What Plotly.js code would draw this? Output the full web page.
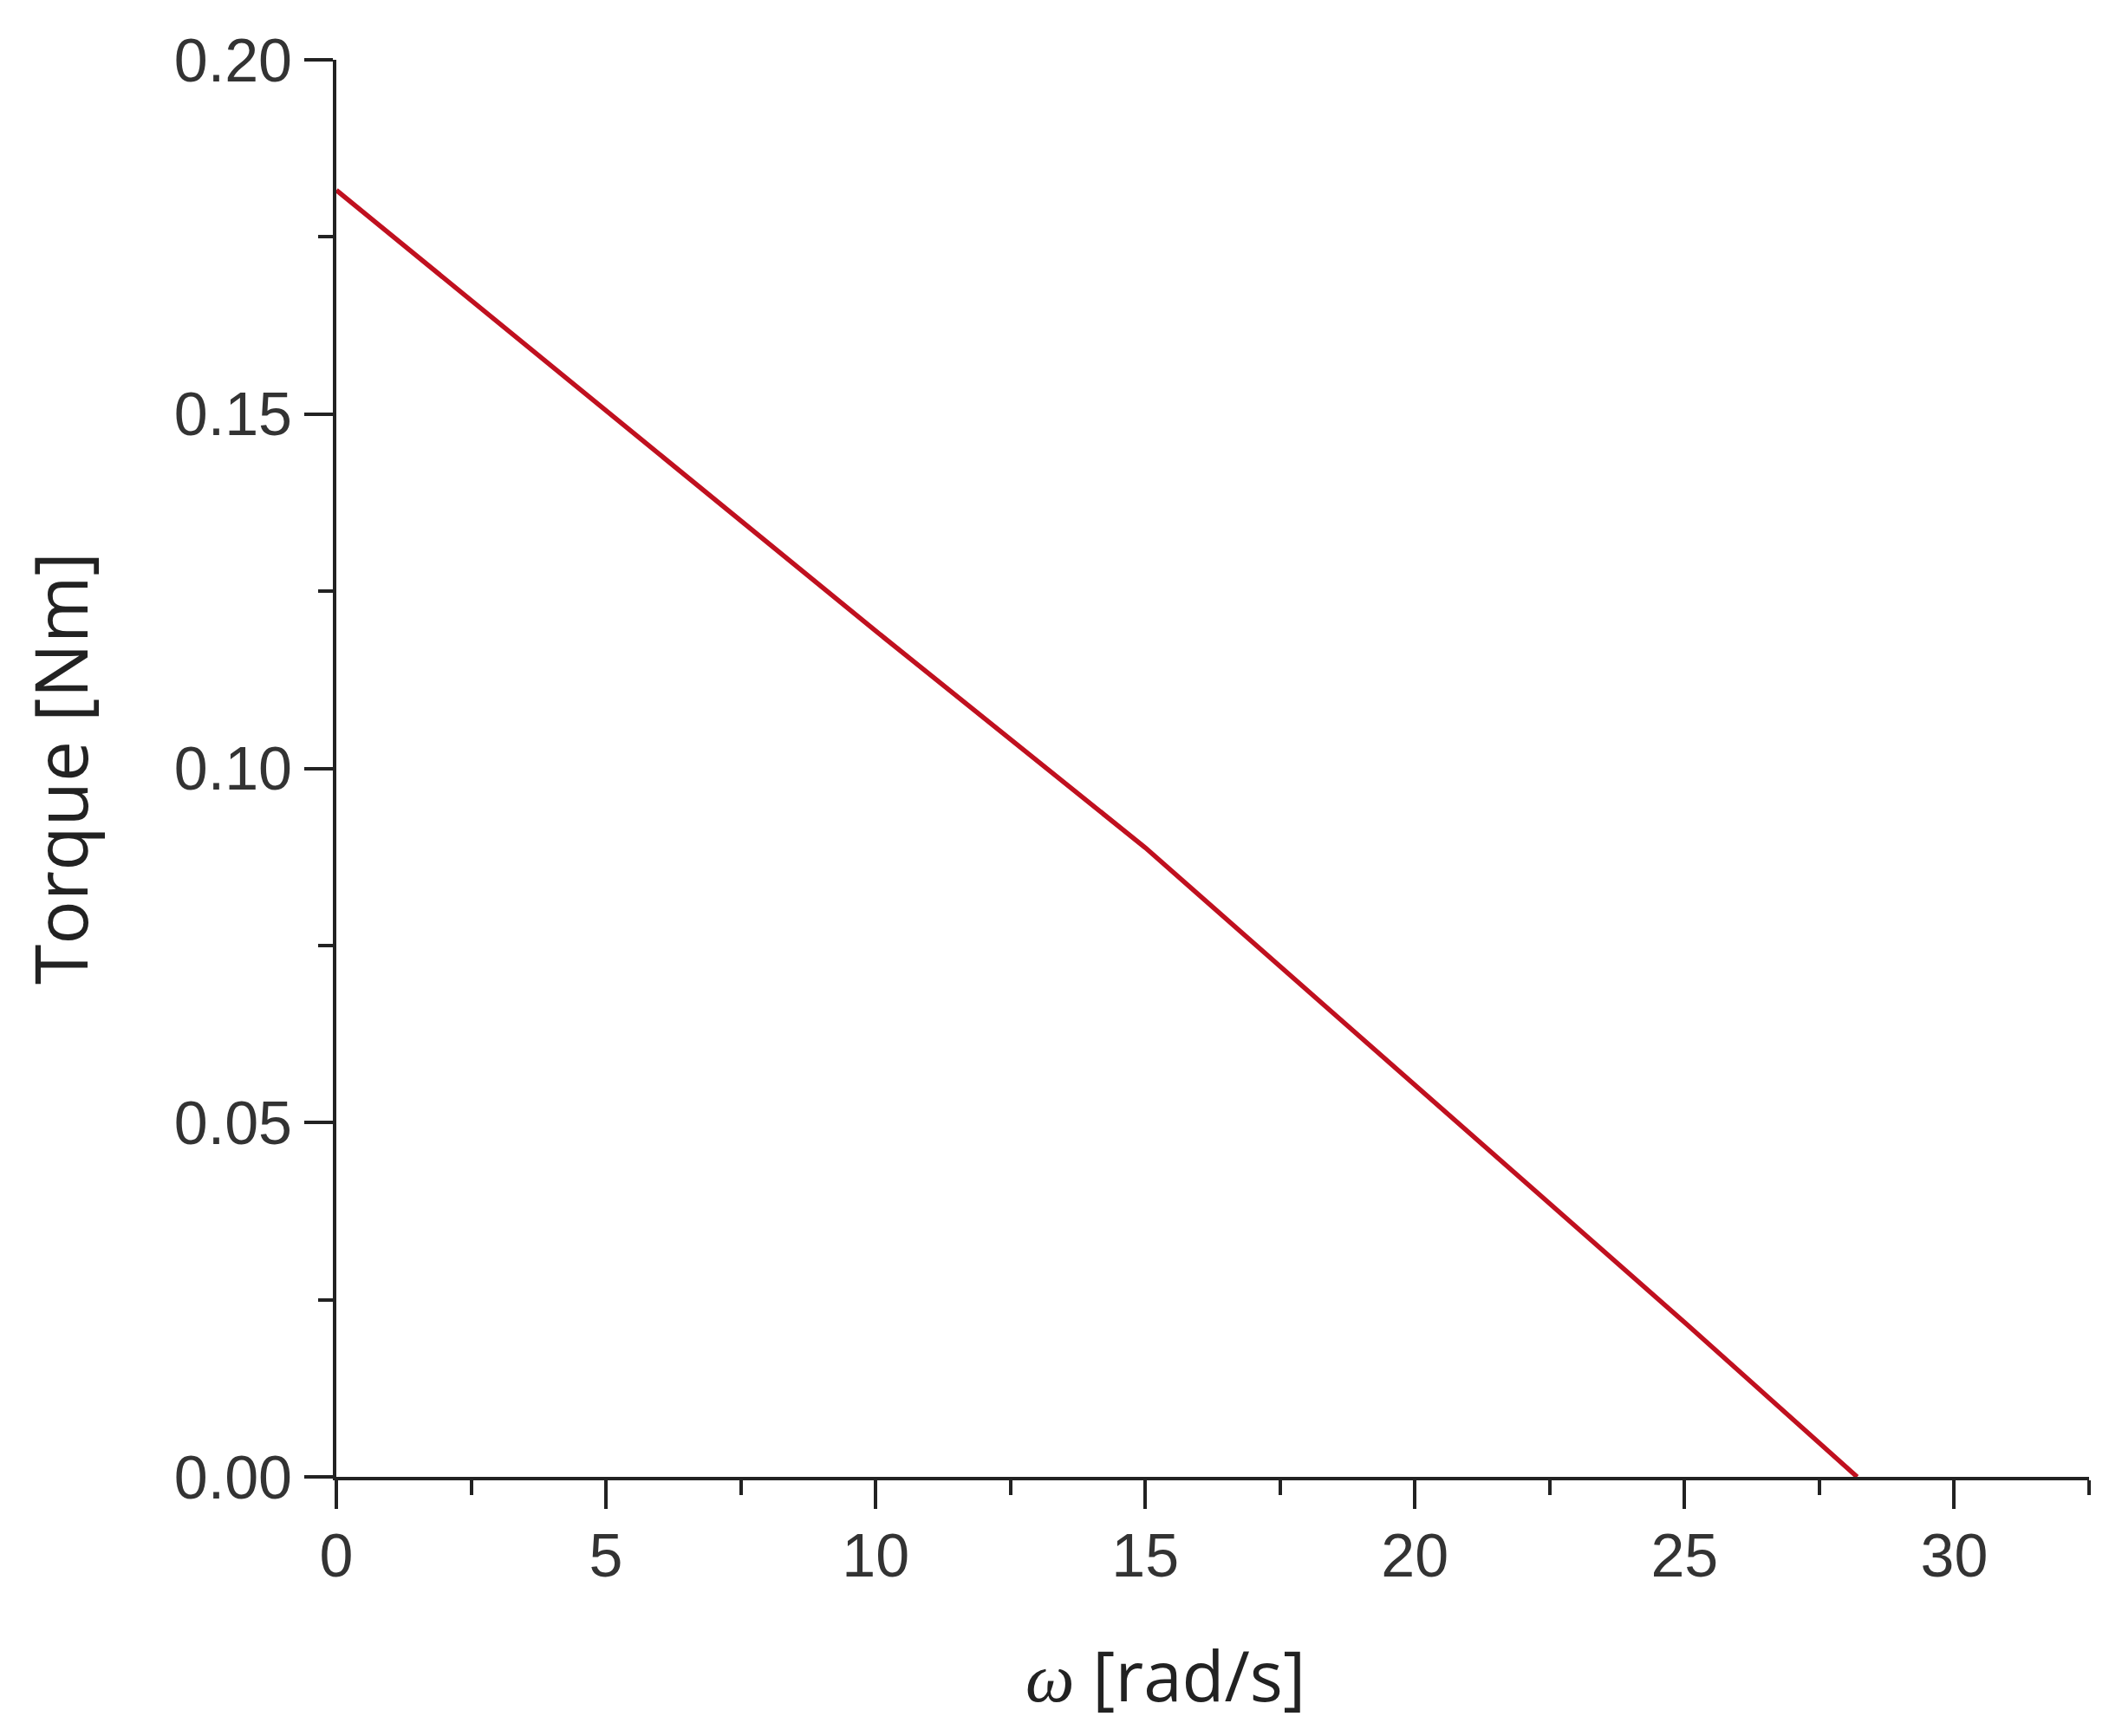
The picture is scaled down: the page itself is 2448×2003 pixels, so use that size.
<!DOCTYPE html>
<html>
<head>
<meta charset="utf-8">
<script src="https://cdn.plot.ly/plotly-3.0.1.min.js"></script>
<style>html,body{margin:0;padding:0;background:#fff;}#chart{width:2448px;height:2003px;}</style>
</head>
<body>
<div id="chart"></div>
<script>
const omega = [0, 5, 10, 15, 20, 25, 28.2];
const torque = [0.1816, 0.1506, 0.1194, 0.0888, 0.0554, 0.0218, 0.0];
const xTicks = [0, 5, 10, 15, 20, 25, 30];
const yTicks = [0.00, 0.05, 0.10, 0.15, 0.20];
const yTickText = ["0.00", "0.05", "0.10", "0.15", "0.20"];
const xTitle = "<span style=\"font-family:'Liberation Serif', serif\"><i>ω</i></span> [rad/s]";
const yTitle = "Torque [Nm]";

const trace = {
  x: omega, y: torque, type: 'scatter', mode: 'lines',
  line: {color: '#c0101f', width: 5.5},
  hoverinfo: 'skip', showlegend: false
};

const axisCommon = {
  showgrid: false, zeroline: false, showline: true,
  linecolor: '#222', linewidth: 4,
  ticks: 'outside', ticklen: 33, tickwidth: 4, tickcolor: '#222',
  tickfont: {family: 'Liberation Sans, Arial, sans-serif', size: 70, color: '#333'}
};

const layout = {
  width: 2448, height: 2003,
  paper_bgcolor: '#fff', plot_bgcolor: '#fff',
  margin: {l: 388, r: 38, t: 69, b: 299},
  xaxis: Object.assign({}, axisCommon, {
    range: [0, 32.5], tickvals: xTicks, ticktext: xTicks.map(String),
    ticklabelstandoff: -6,
    minor: {tickvals: [2.5, 7.5, 12.5, 17.5, 22.5, 27.5, 32.5], ticks: 'outside', ticklen: 17, tickwidth: 4, tickcolor: '#222'}
  }),
  yaxis: Object.assign({}, axisCommon, {
    range: [0, 0.2], tickvals: yTicks, ticktext: yTickText,
    minor: {tickvals: [0.025, 0.075, 0.125, 0.175], ticks: 'outside', ticklen: 17, tickwidth: 4, tickcolor: '#222'},
    title: {text: yTitle, font: {family: 'Open Sans, sans-serif', size: 84, color: '#222'}, standoff: 72}
  }),
  annotations: [{
    text: xTitle, xref: 'paper', yref: 'paper',
    x: (1344 - 388) / (2410 - 388), y: -(1931 - 1704) / (1704 - 69),
    xanchor: 'center', yanchor: 'middle', showarrow: false,
    font: {family: 'Open Sans, sans-serif', size: 80, color: '#222'}
  }]
};

Plotly.newPlot('chart', [trace], layout, {staticPlot: true, displayModeBar: false});
</script>
</body>
</html>
